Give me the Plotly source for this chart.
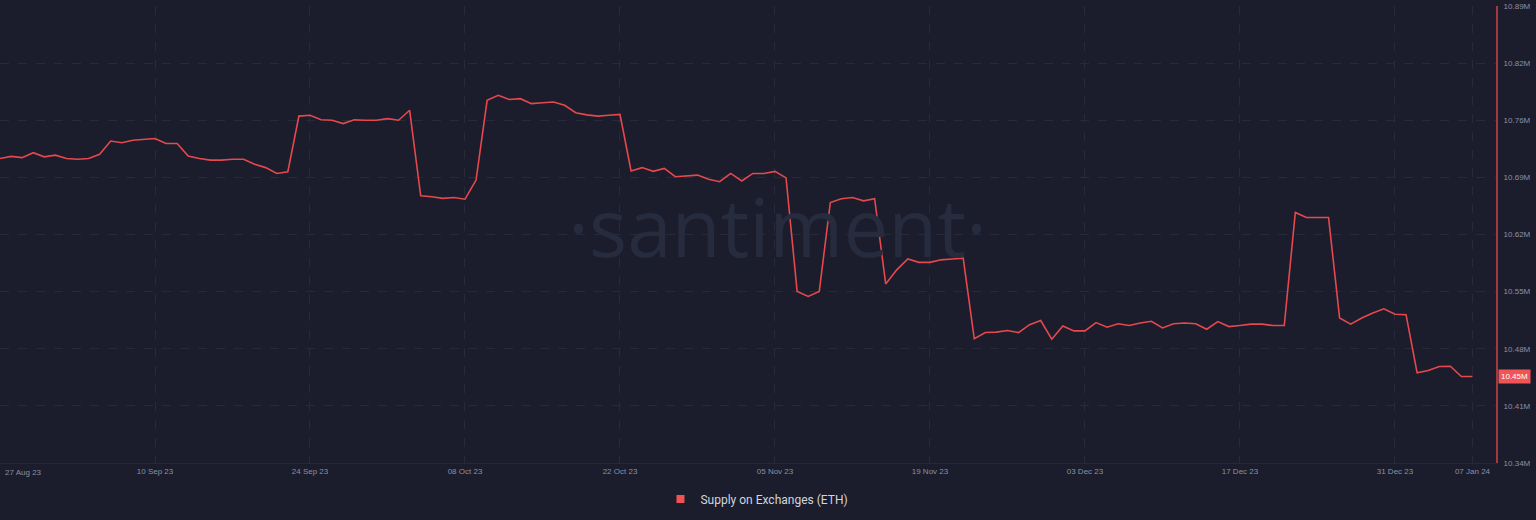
import pandas as pd
import plotly.graph_objects as go

# Supply on Exchanges (ETH), daily, in millions
start_date = "2023-08-27"
supply_m = [
    10.709, 10.7115, 10.710, 10.716, 10.711, 10.713, 10.709, 10.708, 10.709, 10.714,
    10.730, 10.728, 10.731, 10.732, 10.733, 10.727, 10.727, 10.712, 10.709, 10.707,
    10.707, 10.708, 10.708, 10.702, 10.698, 10.691, 10.693, 10.760, 10.761, 10.7555,
    10.755, 10.751, 10.7555, 10.755, 10.755, 10.757, 10.755, 10.767, 10.664, 10.663,
    10.661, 10.662, 10.660, 10.683, 10.779, 10.785, 10.780, 10.781, 10.775, 10.776,
    10.777, 10.773, 10.764, 10.7615, 10.760, 10.761, 10.762, 10.694, 10.698, 10.6935,
    10.697, 10.687, 10.688, 10.689, 10.684, 10.681, 10.691, 10.682, 10.691, 10.691,
    10.6935, 10.6856, 10.549, 10.543, 10.549, 10.656, 10.6605, 10.662, 10.658, 10.6605,
    10.558, 10.575, 10.588, 10.584, 10.584, 10.587, 10.588, 10.589, 10.492, 10.4995,
    10.500, 10.502, 10.4995, 10.509, 10.514, 10.4915, 10.5075, 10.5015, 10.5015, 10.5115,
    10.506, 10.510, 10.508, 10.511, 10.513, 10.505, 10.510, 10.511, 10.510, 10.5035,
    10.5127, 10.5067, 10.508, 10.5096, 10.5096, 10.508, 10.508, 10.644, 10.638, 10.638,
    10.638, 10.517, 10.5096, 10.517, 10.523, 10.528, 10.5216, 10.521, 10.451, 10.4538,
    10.4586, 10.459, 10.4466, 10.4466,
]

x_tick_dates = [
    "2023-08-27", "2023-09-10", "2023-09-24", "2023-10-08", "2023-10-22",
    "2023-11-05", "2023-11-19", "2023-12-03", "2023-12-17", "2023-12-31", "2024-01-07",
]
x_tick_labels = [
    "27 Aug 23", "10 Sep 23", "24 Sep 23", "08 Oct 23", "22 Oct 23",
    "05 Nov 23", "19 Nov 23", "03 Dec 23", "17 Dec 23", "31 Dec 23", "07 Jan 24",
]
y_tick_labels = [
    "10.34M", "10.41M", "10.48M", "10.55M", "10.62M",
    "10.69M", "10.76M", "10.82M", "10.89M",
]
y_min, y_step = 10.3425, 0.06875

BG = "#1b1d2c"
GRID = "#272a3b"
LINE = "#e5484d"
TICK_FONT = {"family": "Arial, Liberation Sans, sans-serif", "size": 8, "color": "#8c90a4"}

dates = pd.date_range(start_date, periods=len(supply_m), freq="D")
y_ticks = [y_min + i * y_step for i in range(len(y_tick_labels))]

fig = go.Figure()

fig.add_trace(
    go.Scatter(
        x=dates,
        y=supply_m,
        mode="lines",
        line={"color": LINE, "width": 1.6},
        name="Supply on Exchanges (ETH)",
        showlegend=False,
    )
)

# legend entry with a square swatch
fig.add_trace(
    go.Scatter(
        x=[None],
        y=[None],
        mode="markers",
        marker={"symbol": "square", "size": 8, "color": "#f05353"},
        name="Supply on Exchanges (ETH)",
    )
)

fig.update_layout(
    width=1536,
    height=520,
    paper_bgcolor=BG,
    plot_bgcolor=BG,
    margin={"l": 0, "r": 40, "t": 6, "b": 57},
    font={"family": "Arial, Liberation Sans, sans-serif", "color": "#8c90a4"},
    showlegend=True,
    legend={
        "orientation": "h",
        "x": 0.506,
        "xanchor": "center",
        "y": -0.079,
        "yanchor": "middle",
        "font": {"family": "Roboto, Arial, sans-serif", "size": 12, "color": "#d2d5de"},
        "bgcolor": "rgba(0,0,0,0)",
    },
    xaxis={
        "range": ["2023-08-27", "2024-01-09 03:00"],
        "tickvals": x_tick_dates,
        "ticktext": [""] + x_tick_labels[1:],
        "tickfont": TICK_FONT,
        "showgrid": True,
        "gridcolor": GRID,
        "griddash": "dash",
        "gridwidth": 1,
        "zeroline": False,
        "showline": True,
        "linecolor": "#252837",
        "linewidth": 1,
        "ticks": "",
        "automargin": False,
        "fixedrange": True,
    },
    yaxis={
        "side": "right",
        "range": [y_ticks[0], y_ticks[-1]],
        "tickvals": y_ticks,
        "ticktext": y_tick_labels,
        "tickfont": TICK_FONT,
        "ticklabelstandoff": 4,
        "showgrid": True,
        "gridcolor": GRID,
        "griddash": "dash",
        "gridwidth": 1,
        "zeroline": False,
        "showline": True,
        "linecolor": "#a3383e",
        "linewidth": 2,
        "ticks": "",
        "automargin": False,
        "fixedrange": True,
    },
    annotations=[
        # watermark
        {
            "text": "·santiment·",
            "xref": "paper",
            "yref": "paper",
            "x": 0.52,
            "y": 0.52,
            "xanchor": "center",
            "yanchor": "middle",
            "showarrow": False,
            "font": {"family": "Open Sans, sans-serif", "size": 80, "color": "#262b3d", "weight": 400},
        },
        # first date label, kept inside the chart
        {
            "text": x_tick_labels[0],
            "xref": "paper",
            "yref": "paper",
            "x": 0.0,
            "y": 0,
            "xanchor": "left",
            "yanchor": "top",
            "xshift": 3,
            "yshift": -3,
            "showarrow": False,
            "font": TICK_FONT,
        },
        # last value badge
        {
            "text": f"{supply_m[-1]:.2f}M",
            "xref": "paper",
            "yref": "y",
            "x": 1.0,
            "y": supply_m[-1],
            "xanchor": "left",
            "yanchor": "middle",
            "xshift": 2,
            "showarrow": False,
            "bgcolor": "#f05555",
            "borderpad": 2,
            "font": {"family": "Arial, Liberation Sans, sans-serif", "size": 8, "color": "#ffffff"},
        },
    ],
)

fig.write_html(
    "out.html",
    config={"displayModeBar": False},
    post_script="document.body.style.margin='0';document.body.style.background='#1b1d2c';",
)
